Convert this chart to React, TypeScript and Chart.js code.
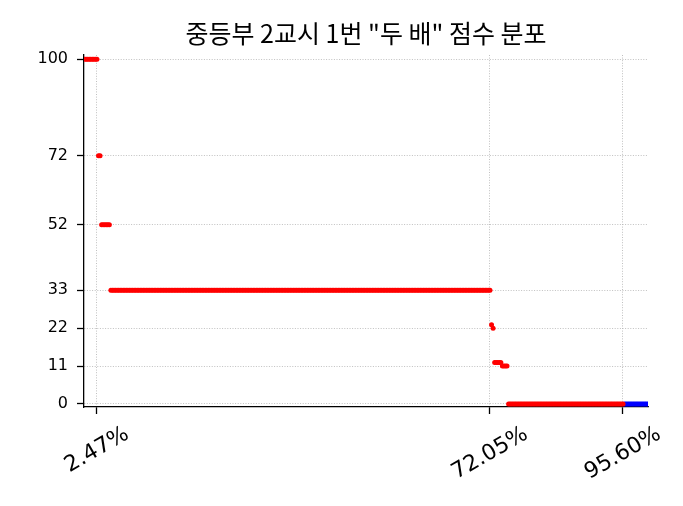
import React, { useEffect, useRef } from "react";
import { Chart, registerables } from "chart.js";

Chart.register(...registerables);

const TITLE = '중등부 2교시 1번 "두 배" 점수 분포';
// score groups ordered by rank (highest first); counts = students per group
const redScores = [100, 72, 52, 33, 23, 22, 12, 11, 0];
const redCounts = [9, 2, 6, 246, 1, 1, 5, 4, 75];
const blueScores = [0];
const blueCounts = [16];
const yTickValues = [0, 11, 22, 33, 52, 72, 100];
const xTickValues = [2.47, 72.05, 95.6];
const xTickLabels = ["2.47%", "72.05%", "95.60%"];

const TOTAL =
  redCounts.reduce((a, b) => a + b, 0) + blueCounts.reduce((a, b) => a + b, 0);

function buildPoints() {
  const red: { x: number; y: number }[] = [];
  const blue: { x: number; y: number }[] = [];
  let rank = 0;
  redScores.forEach((s, i) => {
    for (let k = 0; k < redCounts[i]; k++) {
      rank++;
      red.push({ x: (rank / TOTAL) * 100, y: s });
    }
  });
  blueScores.forEach((s, i) => {
    for (let k = 0; k < blueCounts[i]; k++) {
      rank++;
      blue.push({ x: (rank / TOTAL) * 100, y: s });
    }
  });
  return { red, blue };
}

const FONT = '"DejaVu Sans", sans-serif';

export default function App() {
  const ref = useRef<HTMLCanvasElement | null>(null);
  useEffect(() => {
    if (!ref.current) return;
    const { red, blue } = buildPoints();
    const titlePlugin = {
      id: "mplTitle",
      afterDraw(chart: any) {
        const ctx = chart.ctx;
        const a = chart.chartArea;
        ctx.save();
        ctx.fillStyle = "#000";
        ctx.font = '25px "Noto Sans CJK KR", sans-serif';
        ctx.textAlign = "center";
        ctx.textBaseline = "middle";
        ctx.fillText(TITLE, (a.left + a.right) / 2, 33);
        ctx.restore();
      },
    };
    const xLabelPlugin = {
      id: "xRotLabels",
      afterDraw(chart: any) {
        const ctx = chart.ctx;
        const xs = chart.scales.x;
        const a = chart.chartArea;
        ctx.save();
        ctx.fillStyle = "#000";
        const fs = 22;
        ctx.font = `${fs}px ${FONT}`;
        const ang = (30 * Math.PI) / 180;
        xTickValues.forEach((v, i) => {
          const label = xTickLabels[i];
          const w = ctx.measureText(label).width;
          const h = fs * 1.1;
          const bh = w * Math.sin(ang) + h * Math.cos(ang);
          const px = xs.getPixelForValue(v);
          const cy = a.bottom + 7 + 8 + bh / 2;
          ctx.save();
          ctx.translate(px, cy);
          ctx.rotate(-ang);
          ctx.textAlign = "center";
          ctx.textBaseline = "middle";
          ctx.fillText(label, 0, 0);
          ctx.restore();
        });
        ctx.restore();
      },
    };
    const gridOpts = {
      color: "#b0b0b0",
      lineWidth: 0.8,
      drawTicks: true,
      tickLength: 7,
      tickColor: "#000",
      tickWidth: 1.3,
      tickBorderDash: [],
    };
    const borderOpts = { display: true, color: "#000", width: 1.3, dash: [1, 1.6] };
    const chart = new Chart(ref.current, {
      type: "scatter",
      data: {
        datasets: [
          {
            data: red,
            backgroundColor: "#ff0000",
            borderWidth: 0,
            pointRadius: 2.5,
          },
          {
            data: blue,
            backgroundColor: "#0000ff",
            borderWidth: 0,
            pointRadius: 2.5,
          },
        ],
      },
      options: {
        animation: false,
        responsive: false,
        devicePixelRatio: 1,
        layout: { padding: { left: 0, right: 35, top: 55, bottom: 0 } },
        plugins: {
          legend: { display: false },
          title: { display: false },
          tooltip: { enabled: false },
        },
        scales: {
          x: {
            type: "linear",
            min: 0.17,
            max: 100.03,
            z: 1,
            afterBuildTicks: (s: any) => {
              s.ticks = xTickValues.map((v) => ({ value: v }));
            },
            afterFit: (s: any) => {
              s.height = 99;
            },
            ticks: { display: false },
            grid: gridOpts,
            border: borderOpts,
          },
          y: {
            type: "linear",
            min: -0.87,
            max: 101.2,
            z: 1,
            afterBuildTicks: (s: any) => {
              s.ticks = yTickValues.map((v) => ({ value: v }));
            },
            afterFit: (s: any) => {
              s.width = 84;
            },
            ticks: {
              color: "#000",
              font: { family: FONT, size: 16 },
              padding: 9,
              callback: (v: any) => String(v),
            },
            grid: gridOpts,
            border: borderOpts,
          },
        },
      },
      plugins: [titlePlugin, xLabelPlugin],
    } as any);
    return () => chart.destroy();
  }, []);
  return (
    <div style={{ position: "absolute", left: 0, top: 0, width: 683, height: 506, background: "#fff" }}>
      <canvas ref={ref} width={683} height={506} />
    </div>
  );
}
